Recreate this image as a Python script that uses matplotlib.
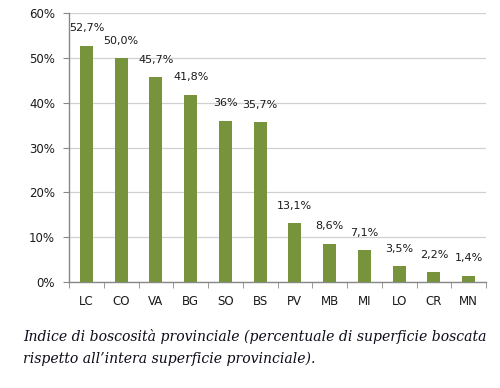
import matplotlib
matplotlib.use("Agg")
import matplotlib.pyplot as plt
import numpy as np
from matplotlib.ticker import FixedLocator

categories = ["LC", "CO", "VA", "BG", "SO", "BS", "PV", "MB", "MI", "LO", "CR", "MN"]
values = [52.7, 50.0, 45.7, 41.8, 36.0, 35.7, 13.1, 8.6, 7.1, 3.5, 2.2, 1.4]
labels = ["52,7%", "50,0%", "45,7%", "41,8%", "36%", "35,7%", "13,1%", "8,6%", "7,1%", "3,5%", "2,2%", "1,4%"]
yticks = [0, 10, 20, 30, 40, 50, 60]
caption1 = "Indice di boscosità provinciale (percentuale di superficie boscata"
caption2 = "rispetto all\u2019intera superficie provinciale)."

fig = plt.figure(figsize=(5.0, 3.88), dpi=100)
ax = fig.add_axes([0.138, 0.273, 0.834, 0.693])
x = np.arange(len(categories))
ax.bar(x, values, width=0.38, color="#77933C", zorder=3)
for xi, v, lab in zip(x, values, labels):
    ax.annotate(lab, (xi, v), xytext=(0, 9), textcoords="offset points",
                ha="center", va="bottom", fontsize=8, color="#1a1a1a",
                family="DejaVu Sans")

ax.set_xlim(-0.5, len(categories) - 0.5)
ax.set_ylim(0, 60)
ax.set_yticks(yticks)
ax.set_yticklabels([f"{t}%" for t in yticks], fontsize=8.5, color="#1a1a1a")
ax.yaxis.grid(True, color="#d0d0d0", linewidth=0.9, zorder=0)
ax.set_xticks(x)
ax.set_xticklabels(categories, fontsize=8.5, color="#1a1a1a")
ax.xaxis.set_minor_locator(FixedLocator(np.arange(-0.5, len(categories), 1.0)))
ax.tick_params(axis="x", which="major", length=0, pad=9)
ax.tick_params(axis="x", which="minor", length=4, color="#888888", direction="out")
ax.tick_params(axis="y", length=4, color="#888888", direction="out", pad=6)
for s in ["top", "right"]:
    ax.spines[s].set_visible(False)
for s in ["left", "bottom"]:
    ax.spines[s].set_color("#888888")
    ax.spines[s].set_linewidth(1.0)

fig.text(0.046, 1 - 337 / 388, caption1, fontsize=10.1, style="italic",
         family="DejaVu Serif", color="#0d0d1a", va="center", ha="left")
fig.text(0.046, 1 - 359 / 388, caption2, fontsize=10.1, style="italic",
         family="DejaVu Serif", color="#0d0d1a", va="center", ha="left")

fig.savefig("out.png", dpi=100)
